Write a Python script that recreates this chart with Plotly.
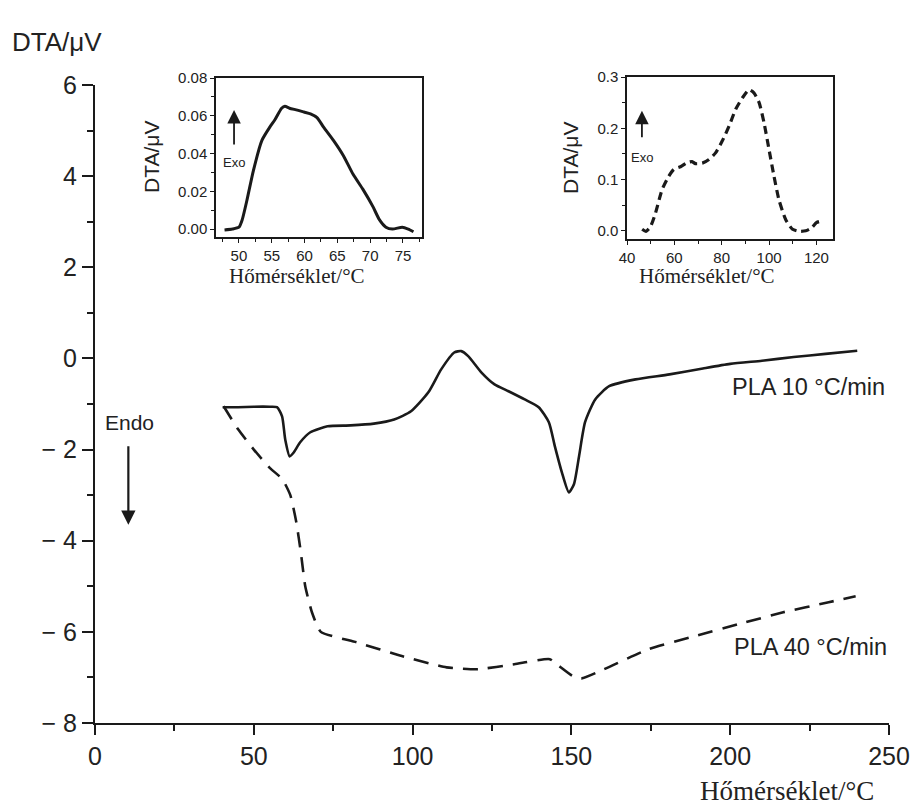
import plotly.graph_objects as go

W, H = 912, 810

# ---------------- data ----------------
pla10_x = [40.2, 45, 50, 55, 57.3, 58.9, 59.9, 61.3, 62.5, 64.6, 67.8, 73.2, 80.5, 87.8, 94.2, 99.5,
           104.9, 109.0, 113.1, 115.3, 117.5, 121.7, 125.8, 130.2, 135.3, 139.7, 142.9, 144.8, 147.0,
           149.2, 150.8, 152.4, 154.3, 157.5, 161.9, 170.2, 180.9, 191.4, 200, 210, 220, 230, 240]
pla10_y = [-1.07, -1.07, -1.06, -1.06, -1.07, -1.27, -1.78, -2.15, -2.07, -1.84, -1.62, -1.49, -1.47,
           -1.43, -1.34, -1.16, -0.75, -0.24, 0.13, 0.16, 0.05, -0.31, -0.57, -0.72, -0.90, -1.07,
           -1.40, -1.93, -2.50, -2.94, -2.76, -2.15, -1.40, -0.90, -0.61, -0.46, -0.35, -0.22, -0.12,
           -0.05, 0.03, 0.10, 0.17]

pla40_x = [40.5, 45, 50, 55, 59, 61.5, 63.4, 64.8, 66.2, 68.3, 71.1, 82.4, 96.6, 110.7, 120.6, 132.0,
           143.2, 146.1, 150.4, 153.2, 160.3, 174.3, 188.6, 202.7, 216.7, 231, 239.5]
pla40_y = [-1.05, -1.55, -2.0, -2.4, -2.65, -3.0, -3.6, -4.25, -5.0, -5.57, -6.0, -6.23, -6.53, -6.78,
           -6.82, -6.71, -6.60, -6.75, -6.97, -7.02, -6.82, -6.38, -6.10, -5.83, -5.57, -5.35, -5.22]

ins1_x = [47.8, 49.0, 50.0, 50.5, 51.2, 52.2, 53.5, 54.7, 55.5, 56.5, 57.0, 57.7, 58.9, 59.9, 60.9,
          61.9, 62.9, 64.4, 65.9, 67.4, 68.9, 70.4, 71.4, 72.4, 73.4, 74.9, 75.8, 76.6]
ins1_y = [-0.0005, 0.000, 0.001, 0.005, 0.015, 0.031, 0.047, 0.054, 0.058, 0.064, 0.065, 0.064, 0.063,
          0.062, 0.061, 0.059, 0.054, 0.047, 0.039, 0.029, 0.021, 0.012, 0.005, 0.001, 0.000, 0.001,
          0.000, -0.0014]

ins2_x = [46.4, 48.0, 49.9, 52.0, 54.8, 57.6, 59.8, 62.6, 65.4, 67.5, 68.9, 71.8, 74.6, 77.4, 80.2,
          83.1, 85.9, 88.7, 91.5, 93.6, 95.8, 97.9, 100.0, 102.1, 104.2, 107.1, 109.9, 112.7, 115.5,
          118.0, 120.0, 123.0]
ins2_y = [0.003, -0.001, 0.008, 0.034, 0.080, 0.106, 0.120, 0.125, 0.133, 0.135, 0.131, 0.132, 0.139,
          0.152, 0.175, 0.204, 0.237, 0.259, 0.275, 0.269, 0.250, 0.210, 0.158, 0.106, 0.060, 0.021,
          0.003, -0.001, 0.000, 0.006, 0.016, 0.020]

main_yticks = [-8, -6, -4, -2, 0, 2, 4, 6]
main_yticktext = ["\u2212 8", "\u2212 6", "\u2212 4", "\u2212 2", "0", "2", "4", "6"]
main_xticks = [0, 50, 100, 150, 200, 250]
ins1_xticks = [50, 55, 60, 65, 70, 75]
ins1_yticks = [0.00, 0.02, 0.04, 0.06, 0.08]
ins2_xticks = [40, 60, 80, 100, 120]
ins2_yticks = [0.0, 0.1, 0.2, 0.3]

xlabel = "Hőmérséklet/°C"
ylabel = "DTA/μV"

# --------------- layout helpers ---------------
def dx(a, b):
    return [a / W, b / W]

def dy(top, bottom):
    return [1 - bottom / H, 1 - top / H]

SANS = "Liberation Sans, Arial, sans-serif"
SERIF = "Liberation Serif, Times New Roman, serif"
INK = "#1a1a1a"

fig = go.Figure()
fig.add_trace(go.Scatter(x=pla10_x, y=pla10_y, mode="lines", line=dict(color=INK, width=2.6, shape="spline", smoothing=0.6),
                         xaxis="x", yaxis="y", showlegend=False))
fig.add_trace(go.Scatter(x=pla40_x, y=pla40_y, mode="lines", line=dict(color=INK, width=2.6, dash="15px,10px", shape="spline", smoothing=0.5),
                         xaxis="x", yaxis="y", showlegend=False))
fig.add_trace(go.Scatter(x=ins1_x, y=ins1_y, mode="lines", line=dict(color=INK, width=3, shape="spline", smoothing=0.6),
                         xaxis="x2", yaxis="y2", showlegend=False))
fig.add_trace(go.Scatter(x=ins2_x, y=ins2_y, mode="lines", line=dict(color=INK, width=3.2, dash="8px,5px", shape="spline", smoothing=0.6),
                         xaxis="x3", yaxis="y3", showlegend=False))

axis_common = dict(showgrid=False, zeroline=False, showline=True, linecolor=INK, ticks="outside",
                   tickcolor=INK, automargin=False)

fig.update_layout(
    width=W, height=H, margin=dict(l=0, r=0, t=0, b=0),
    paper_bgcolor="white", plot_bgcolor="rgba(0,0,0,0)",
    font=dict(family=SANS, color="#222"),
    xaxis=dict(**axis_common, domain=dx(95, 889), range=[0, 250], tickvals=main_xticks, ticklen=10, tickwidth=2,
               linewidth=2, tickfont=dict(size=25, family=SANS), anchor="y",
               minor=dict(ticks="outside", dtick=25, tick0=0, ticklen=6, tickwidth=1.5, tickcolor=INK)),
    yaxis=dict(**axis_common, domain=dy(85, 723), range=[-8, 6], tickvals=main_yticks, ticktext=main_yticktext,
               ticklen=11, tickwidth=2, linewidth=2, tickfont=dict(size=25, family=SANS), anchor="x",
               minor=dict(ticks="outside", dtick=1, tick0=0, ticklen=6, tickwidth=1.5, tickcolor=INK)),
    xaxis2=dict(**axis_common, domain=dx(216, 422), range=[46.5, 77.9], tickvals=ins1_xticks, ticklen=4, tickwidth=1.2,
                linewidth=1.5, mirror=True, anchor="y2", tickfont=dict(size=15, family=SANS),
                minor=dict(ticks="outside", dtick=2.5, tick0=0, ticklen=3, tickwidth=1, tickcolor=INK)),
    yaxis2=dict(**axis_common, domain=dy(78, 237), range=[-0.0042, 0.08], tickvals=ins1_yticks, tickformat=".2f",
                ticklen=4, tickwidth=1.2, linewidth=1.5, mirror=True, anchor="x2", tickfont=dict(size=15, family=SANS),
                minor=dict(ticks="outside", dtick=0.01, tick0=0, ticklen=3, tickwidth=1, tickcolor=INK)),
    xaxis3=dict(**axis_common, domain=dx(627, 833), range=[40, 127], tickvals=ins2_xticks, ticklen=4, tickwidth=1.2,
                linewidth=1.5, mirror=True, anchor="y3", tickfont=dict(size=15, family=SANS),
                minor=dict(ticks="outside", dtick=10, tick0=0, ticklen=3, tickwidth=1, tickcolor=INK)),
    yaxis3=dict(**axis_common, domain=dy(77, 239), range=[-0.016, 0.3], tickvals=ins2_yticks, tickformat=".1f",
                ticklen=4, tickwidth=1.2, linewidth=1.5, mirror=True, anchor="x3", tickfont=dict(size=15, family=SANS),
                minor=dict(ticks="outside", dtick=0.05, tick0=0, ticklen=3, tickwidth=1, tickcolor=INK)),
)

ann = []
def txt(x, y, s, size, family=SANS, xanchor="center", yanchor="middle", xref="paper", yref="paper", angle=0):
    ann.append(dict(x=x, y=y, text=s, showarrow=False, xref=xref, yref=yref, xanchor=xanchor, yanchor=yanchor,
                    font=dict(size=size, family=family, color="#222"), textangle=angle))

# main titles
txt(10 / W, 1 - 42 / H, ylabel, 26, xanchor="left")
txt(876 / W, 1 - 791 / H, xlabel, 27, family=SERIF, xanchor="right")
# inset titles
txt(151 / W, 1 - 157 / H, ylabel, 21, angle=-90)
txt(297 / W, 1 - 276 / H, xlabel, 21, family=SERIF)
txt(570 / W, 1 - 158 / H, ylabel, 21, angle=-90)
txt(707 / W, 1 - 276 / H, xlabel, 21, family=SERIF)
# curve labels
txt(730 / W, 1 - 387 / H, "PLA 10 °C/min", 23.5, xanchor="left")
txt(732 / W, 1 - 647 / H, "PLA 40 °C/min", 23.5, xanchor="left")
# Endo / Exo
txt(11, -1.4, "Endo", 21, xref="x", yref="y")
txt(49.25, 0.0355, "Exo", 13, xref="x2", yref="y2")
txt(46.3, 0.143, "Exo", 13, xref="x3", yref="y3")

# arrows: (head x, head y, axis refs, tail offset in px: negative = tail above head)
arrow_specs = [
    (10.5, -3.65, "x", "y", -80, 2.2, 1.3),
    (49.25, 0.063, "x2", "y2", 36, 1.8, 1.5),
    (46.3, 0.234, "x3", "y3", 28, 1.8, 1.5),
]
for hx, hy, xr, yr, off, w_, s_ in arrow_specs:
    ann.append(dict(x=hx, y=hy, xref=xr, yref=yr, ax=0, ay=off, axref="pixel", ayref="pixel",
                    showarrow=True, arrowhead=2, arrowcolor=INK, arrowwidth=w_, arrowsize=s_, text=""))

fig.update_layout(annotations=ann)
fig.write_html("out.html")
